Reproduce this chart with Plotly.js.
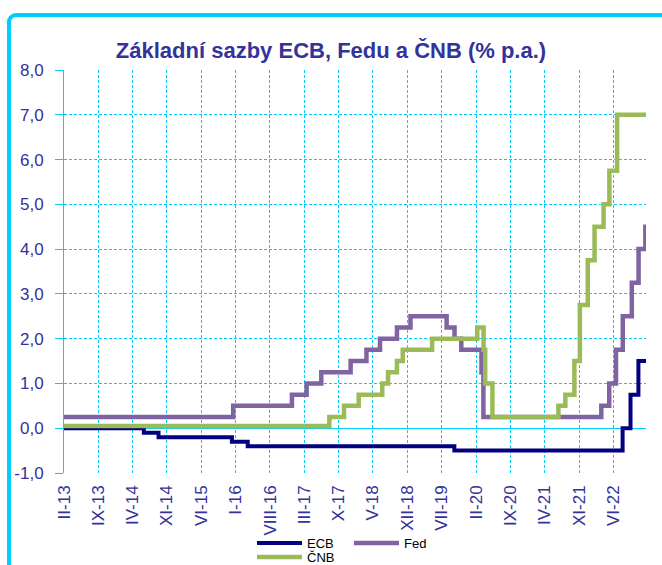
<!DOCTYPE html>
<html>
<head>
<meta charset="utf-8">
<script src="https://cdn.plot.ly/plotly-3.0.1.min.js"></script>
<style>
  html, body { margin: 0; padding: 0; background: #ffffff; }
  #wrap { position: relative; width: 662px; height: 565px; overflow: hidden; }
  #chart { position: absolute; left: 0; top: 0; width: 662px; height: 565px; }
  #frame { position: absolute; left: 7px; top: 13px; width: 720px; height: 620px;
           border: 4px solid #00CCFF; border-radius: 9px; box-sizing: border-box;
           pointer-events: none; }
</style>
</head>
<body>
<div id="wrap">
  <div id="chart"></div>
  <div id="frame"></div>
</div>
<script>
// ECB deposit facility rate – change dates and levels (% p.a.)
const ecbDates = ['2013-02-01','2014-06-11','2014-09-10','2015-12-09','2016-03-16','2019-09-18',
                  '2022-07-27','2022-09-14','2022-11-02','2022-12-19'];
const ecbValues = [0.00, -0.10, -0.20, -0.30, -0.40, -0.50, 0.00, 0.75, 1.50, 1.50];

// Fed funds target (upper bound)
const fedDates = ['2013-02-01','2015-12-17','2016-12-15','2017-03-16','2017-06-15','2017-12-14',
                  '2018-03-22','2018-06-14','2018-09-27','2018-12-20','2019-08-01','2019-09-19',
                  '2019-10-31','2020-03-04','2020-03-16','2022-03-17','2022-05-05','2022-06-16',
                  '2022-07-28','2022-09-22','2022-11-03','2022-12-15','2022-12-19'];
const fedValues = [0.25, 0.50, 0.75, 1.00, 1.25, 1.50, 1.75, 2.00, 2.25, 2.50, 2.25, 2.00,
                   1.75, 1.25, 0.25, 0.50, 1.00, 1.75, 2.50, 3.25, 4.00, 4.50, 4.50];

// CNB 2W repo rate
const cnbDates = ['2013-02-01','2017-08-04','2017-11-03','2018-02-02','2018-06-28','2018-08-03',
                  '2018-09-27','2018-11-02','2019-05-03','2020-02-07','2020-03-17','2020-03-27',
                  '2020-05-11','2021-06-24','2021-08-06','2021-10-01','2021-11-04','2021-12-23',
                  '2022-02-03','2022-03-31','2022-05-06','2022-06-23','2022-12-19'];
const cnbValues = [0.05, 0.25, 0.50, 0.75, 1.00, 1.25, 1.50, 1.75, 2.00, 2.25, 1.75, 1.00,
                   0.25, 0.50, 0.75, 1.50, 2.75, 3.75, 4.50, 5.00, 5.75, 7.00, 7.00];

// X tick labels (every 7 months)
const xTickDates = ['2013-02-01','2013-09-01','2014-04-01','2014-11-01','2015-06-01','2016-01-01',
                    '2016-08-01','2017-03-01','2017-10-01','2018-05-01','2018-12-01','2019-07-01',
                    '2020-02-01','2020-09-01','2021-04-01','2021-11-01','2022-06-01'];
const xTickLabels = ['II-13','IX-13','IV-14','XI-14','VI-15','I-16','VIII-16','III-17','X-17',
                     'V-18','XII-18','VII-19','II-20','IX-20','IV-21','XI-21','VI-22'];

const yTickVals = [-1, 0, 1, 2, 3, 4, 5, 6, 7, 8];
const yTickLabels = ['-1,0','0,0','1,0','2,0','3,0','4,0','5,0','6,0','7,0','8,0'];

const seriesNames = ['ECB', 'Fed', 'ČNB'];

const gridCol = '#00CCFF';
const labelCol = '#333399';

const traces = [
  { x: ecbDates, y: ecbValues, name: seriesNames[0], type: 'scatter', mode: 'lines',
    line: { color: '#000080', width: 4, shape: 'hv' }, legend: 'legend' },
  { x: fedDates, y: fedValues, name: seriesNames[1], type: 'scatter', mode: 'lines',
    line: { color: '#8064A2', width: 4.5, shape: 'hv' }, legend: 'legend2' },
  { x: cnbDates, y: cnbValues, name: seriesNames[2], type: 'scatter', mode: 'lines',
    line: { color: '#9BBB59', width: 4.5, shape: 'hv' }, legend: 'legend3' }
];

const legendCommon = {
  orientation: 'h', xref: 'container', yref: 'container', xanchor: 'left', yanchor: 'middle',
  bgcolor: 'rgba(0,0,0,0)', borderwidth: 0, itemwidth: 45,
  font: { family: 'Arial, Liberation Sans, sans-serif', size: 13, color: '#000000' }
};

const layout = {
  width: 662, height: 565,
  margin: { l: 64, r: 16, t: 70, b: 92 },
  paper_bgcolor: 'rgba(0,0,0,0)', plot_bgcolor: 'rgba(0,0,0,0)',
  showlegend: true,
  title: {
    text: 'Základní sazby ECB, Fedu a ČNB (% p.a.)',
    font: { family: 'Arial, Liberation Sans, sans-serif', size: 22, color: labelCol, weight: 'bold' },
    x: 0.5, xanchor: 'center', xref: 'container',
    y: 1 - 50 / 565, yanchor: 'middle', yref: 'container'
  },
  xaxis: {
    type: 'date', range: ['2013-02-01', '2022-12-19'],
    tickmode: 'array', tickvals: xTickDates, ticktext: xTickLabels,
    tickangle: -90, ticks: '', ticklabelstandoff: 8,
    tickfont: { family: 'Arial, Liberation Sans, sans-serif', size: 17, color: labelCol },
    showgrid: true, gridcolor: gridCol, gridwidth: 1, griddash: '3px,2px',
    showline: false, zeroline: false, fixedrange: true
  },
  yaxis: {
    range: [-1, 8], tickmode: 'array', tickvals: yTickVals, ticktext: yTickLabels,
    ticks: 'outside', ticklen: 8, tickcolor: gridCol, tickwidth: 1, ticklabelstandoff: 8,
    tickfont: { family: 'Arial, Liberation Sans, sans-serif', size: 17, color: labelCol },
    showgrid: true, gridcolor: gridCol, gridwidth: 1, griddash: '3px,2px',
    showline: true, linecolor: gridCol, linewidth: 1,
    zeroline: true, zerolinecolor: gridCol, zerolinewidth: 1, fixedrange: true
  },
  legend: Object.assign({}, legendCommon, { x: 252 / 662, y: 1 - 543 / 565 }),
  legend2: Object.assign({}, legendCommon, { x: 349 / 662, y: 1 - 543 / 565 }),
  legend3: Object.assign({}, legendCommon, { x: 252 / 662, y: 1 - 557 / 565 })
};

Plotly.newPlot('chart', traces, layout, { displayModeBar: false, staticPlot: true });
</script>
</body>
</html>
